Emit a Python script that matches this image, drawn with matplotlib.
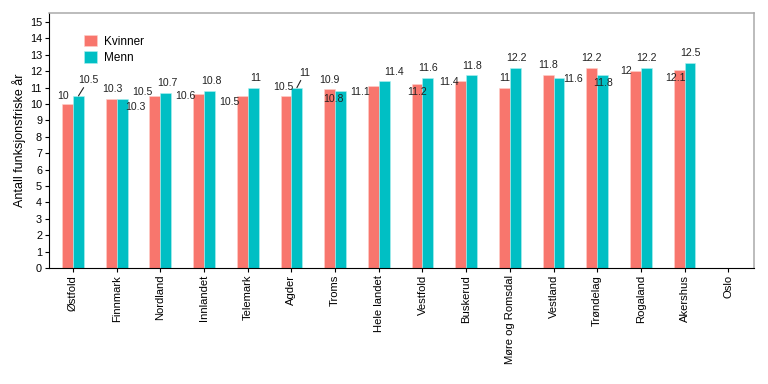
import numpy as np
import matplotlib
matplotlib.use("Agg")
import matplotlib.pyplot as plt

plt.rcParams['font.family'] = ['Liberation Sans', 'DejaVu Sans']

# data
fylker = ["Østfold", "Finnmark", "Nordland", "Innlandet", "Telemark", "Agder", "Troms",
          "Hele landet", "Vestfold", "Buskerud", "Møre og Romsdal", "Vestland",
          "Trøndelag", "Rogaland", "Akershus", "Oslo"]
kvinner = [10, 10.3, 10.5, 10.6, 10.5, 10.5, 10.9, 11.1, 11.2, 11.4, 11, 11.8, 12.2, 12, 12.1, np.nan]
menn = [10.5, 10.3, 10.7, 10.8, 11, 11, 10.8, 11.4, 11.6, 11.8, 12.2, 11.6, 11.8, 12.2, 12.5, np.nan]

# label offsets (pixels, dx, dy) -- repel-style placement
off_k = [(-5, 8), (1, 10), (-13, 4), (-13, -2), (-13, -6), (-3, 9), (0, 9), (-13, -6),
         (0, -8), (-12, -1), (0, 10), (0, 10), (0, 10), (-9, 0), (-4, -8)]
off_m = [(10, 16), (13, -8), (2, 10), (2, 10), (2, 10), (8, 15), (-7, -8), (10, 9),
         (0, 10), (0, 9), (1, 10), (14, -1), (0, -8), (0, 10), (0, 10)]
leder_m = [0, 5]  # labels with a leader line

col_k = "#F8766D"
col_m = "#00BFC4"

fig = plt.figure(figsize=(7.68, 3.84), dpi=100)
ax = fig.add_axes([0.0638, 0.302, 0.918, 0.664])

x = np.arange(len(fylker))
w = 0.25
ax.bar(x - w / 2, kvinner, w, color=col_k, label="Kvinner", edgecolor="#ffd0cc", linewidth=0.4)
ax.bar(x + w / 2, menn, w, color=col_m, label="Menn", edgecolor="#b0f0f0", linewidth=0.4)

for i in range(len(off_k)):
    ax.annotate(f"{kvinner[i]:g}", xy=(x[i] - w / 2, kvinner[i]), xytext=off_k[i],
                textcoords="offset pixels", ha="center", va="center", fontsize=7.6, color="#222222")
    props = dict(arrowstyle="-", lw=0.8, color="#222222", shrinkA=0, shrinkB=0) if i in leder_m else None
    ax.annotate(f"{menn[i]:g}", xy=(x[i] + w / 2, menn[i]), xytext=off_m[i],
                textcoords="offset pixels", ha="center", va="center", fontsize=7.6, color="#222222",
                arrowprops=props)

ax.set_xlim(-0.55, 15.59)
ax.set_ylim(0, 15.55)
ax.set_yticks(range(0, 16))
ax.set_xticks(x)
ax.set_xticklabels(fylker, rotation=90, fontsize=8.1)
ax.tick_params(axis="y", labelsize=7.8, length=3, pad=2)
ax.tick_params(axis="x", length=3, pad=2)
ax.set_ylabel("Antall funksjonsfriske år", fontsize=9, labelpad=3)

for s in ["top", "right"]:
    ax.spines[s].set_color("#aaaaaa")
    ax.spines[s].set_linewidth(1.1)

ax.legend(loc="upper left", bbox_to_anchor=(0.035, 0.955), frameon=False, fontsize=8.5,
          handlelength=1.1, handleheight=1.1, labelspacing=0.3, handletextpad=0.6)

fig.savefig("out.png", dpi=100)
